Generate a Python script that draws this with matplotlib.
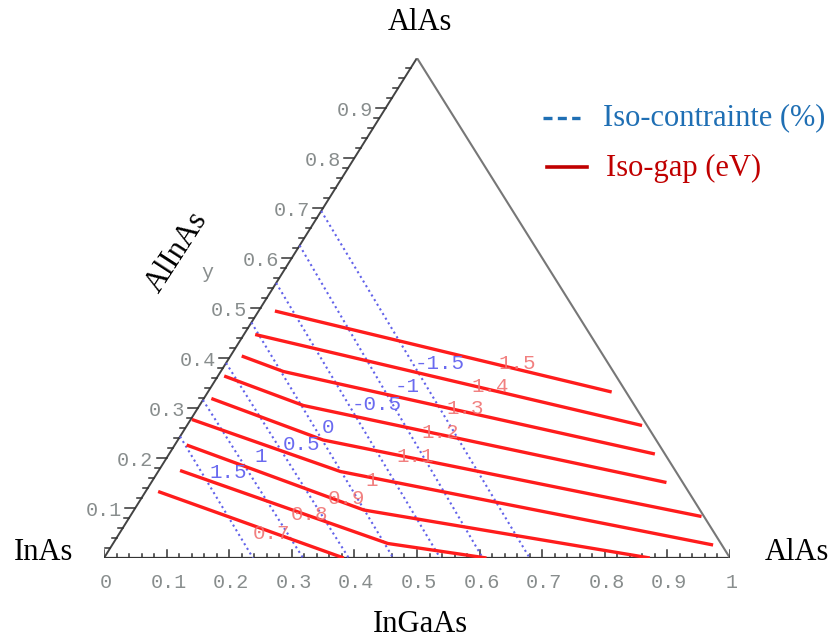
import numpy as np
import matplotlib
matplotlib.use("Agg")
import matplotlib.pyplot as plt
from matplotlib.transforms import Affine2D

# iso-gap lines (eV); compositions: x along the InGaAs edge, y along the AlInAs edge
gap_levels = ["0.7", "0.8", "0.9", "1", "1.1", "1.2", "1.3", "1.4", "1.5"]
gap_x = [[0.020, 0.383],
         [0.034, 0.439, 0.611],
         [0.019, 0.367, 0.872],
         [0.002, 0.291, 0.960],
         [0.012, 0.232, 0.913],
         [0.010, 0.166, 0.823],
         [0.018, 0.100, 0.776],
         [0.018, 0.727],
         [0.026, 0.645]]
gap_y = [[0.133, 0.000],
         [0.175, 0.029, 0.000],
         [0.226, 0.096, 0.000],
         [0.277, 0.173, 0.026],
         [0.319, 0.236, 0.083],
         [0.364, 0.305, 0.151],
         [0.404, 0.373, 0.208],
         [0.447, 0.265],
         [0.494, 0.332]]
gap_label_x = [0.243, 0.286, 0.328, 0.350, 0.395, 0.411, 0.428, 0.446, 0.465]
gap_label_y = [0.049, 0.086, 0.119, 0.156, 0.203, 0.251, 0.299, 0.343, 0.389]

# iso-strain lines (%), straight from the y edge to the bottom edge
strain_levels = ["1.5", "1", "0.5", "0", "-0.5", "-1", "-1.5"]
strain_y_edge = [0.243, 0.316, 0.390, 0.471, 0.550, 0.625, 0.694]
strain_x_edge = [0.238, 0.318, 0.391, 0.462, 0.537, 0.605, 0.680]
strain_label_x = [0.113, 0.149, 0.203, 0.227, 0.283, 0.312, 0.342]
strain_label_y = [0.170, 0.203, 0.226, 0.261, 0.306, 0.343, 0.389]

tick_labels = ["0", "0.1", "0.2", "0.3", "0.4", "0.5", "0.6", "0.7", "0.8", "0.9", "1"]

SERIF = "Liberation Serif"
MONO = "Liberation Mono"
W, H = 831, 638
fig = plt.figure(figsize=(W / 100, H / 100), dpi=100)
ax = fig.add_axes([104 / W, 80 / H, 626 / W, 500 / H])
ax.set_xlim(0, 1)
ax.set_ylim(0, 1)
ax.axis("off")

shear = Affine2D(np.array([[1, 0.5, 0], [0, 1, 0], [0, 0, 1]]))
skew = shear + ax.transData
px, py = 1 / 626, 1 / 500

# triangle frame
ax.plot([0, 1], [0, 0], color="#333333", lw=1.6, transform=skew, solid_capstyle="butt")
ax.plot([0, 0], [0, 1], color="#444444", lw=1.4, transform=skew)
ax.plot([1, 0], [0, 1], color="#777777", lw=1.5, transform=skew)

# ticks
ticks = np.round(np.arange(0, 1.0001, 0.02), 2)
for t in ticks:
    major = abs(t * 10 - round(t * 10)) < 1e-6
    ax.plot([t, t], [0, (8 if major else 4) * py], color="#333333", lw=1.1)
    if 0 < t < 1:
        bx, by = shear.transform([0, t])
        ax.plot([bx, bx - (10 if major else 5) * px], [by, by], color="#333333", lw=1.1)

grey = "#888d8d"
for i, lab in enumerate(tick_labels):
    t = i / 10
    ax.text(t + 2 * px, -25 * py, lab, ha="center", va="center", fontsize=14.5,
            family=MONO, color=grey)
    if 0 < i < 10:
        bx, by = shear.transform([0, t])
        ax.text(bx - 13 * px, by - 3 * py, lab, ha="right", va="center", fontsize=14.5,
                family=MONO, color=grey)
ax.text(0.166, 0.57, "y", ha="center", va="center", fontsize=14.5, family=MONO, color=grey)

# iso-strain lines
for i, lev in enumerate(strain_levels):
    ax.plot([0, strain_x_edge[i]], [strain_y_edge[i], 0], color="#6262ea", lw=1.5,
            ls=(0, (1, 1.6)), transform=skew)
    ax.text(strain_label_x[i], strain_label_y[i], lev, transform=skew, ha="center",
            va="center", fontsize=15, family=MONO, color="#6a6af0")

# iso-gap lines
for i, lev in enumerate(gap_levels):
    ax.plot(gap_x[i], gap_y[i], color="#ff1c1c", lw=2.4, transform=skew,
            solid_capstyle="butt", solid_joinstyle="round")
    ax.text(gap_label_x[i], gap_label_y[i], lev, transform=skew, ha="center",
            va="center", fontsize=15, family=MONO, color="#f07272", alpha=0.9)

# vertex labels
ax.text(0.505, 1.072, "AlAs", ha="center", va="center", fontsize=22, family=SERIF)
ax.text(-0.097, 0.010, "InAs", ha="center", va="center", fontsize=22, family=SERIF)
ax.text(1.107, 0.010, "AlAs", ha="center", va="center", fontsize=22, family=SERIF)
ax.text(0.505, -0.134, "InGaAs", ha="center", va="center", fontsize=22, family=SERIF)
ax.text(0.117, 0.612, "AlInAs", ha="center", va="center", fontsize=22, family=SERIF,
        rotation=57)

# legend
ax.plot([0.701, 0.760], [0.88, 0.88], color="#1f6fb4", lw=2.4, ls=(0, (2.7, 1.6)),
        clip_on=False)
ax.text(0.797, 0.88, "Iso-contrainte (%)", ha="left", va="center", fontsize=22,
        family=SERIF, color="#1f6fb4")
ax.plot([0.708, 0.772], [0.782, 0.782], color="#c00000", lw=2.6, clip_on=False)
ax.text(0.802, 0.78, "Iso-gap (eV)", ha="left", va="center", fontsize=22,
        family=SERIF, color="#c00000")

fig.savefig("out.png", dpi=100)
